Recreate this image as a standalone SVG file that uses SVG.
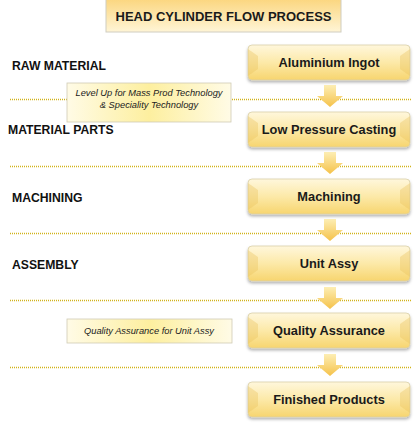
<svg xmlns="http://www.w3.org/2000/svg" width="417" height="423" viewBox="0 0 417 423">
<defs>
<linearGradient id="gBox" x1="0" y1="0" x2="0" y2="1">
<stop offset="0" stop-color="#fff7dc"/>
<stop offset="0.5" stop-color="#fce9a8"/>
<stop offset="1" stop-color="#f7d56f"/>
</linearGradient>
<linearGradient id="gTitle" x1="0" y1="0" x2="0" y2="1">
<stop offset="0" stop-color="#fbd57c"/>
<stop offset="1" stop-color="#fff5d6"/>
</linearGradient>
<linearGradient id="gNote" x1="0" y1="0" x2="1" y2="0">
<stop offset="0" stop-color="#fffbe6"/>
<stop offset="0.5" stop-color="#fdef9f"/>
<stop offset="1" stop-color="#fffbe6"/>
</linearGradient>
<linearGradient id="gArrow" x1="0" y1="0" x2="0" y2="1">
<stop offset="0" stop-color="#fdeeb4"/>
<stop offset="1" stop-color="#f5c24a"/>
</linearGradient>
<filter id="sh" x="-10%" y="-20%" width="120%" height="150%">
<feDropShadow dx="0" dy="2" stdDeviation="1.5" flood-color="#000" flood-opacity="0.3"/>
</filter>
</defs>
<style>
.box{fill:url(#gBox);stroke:#d9cfa8;stroke-width:0.8;filter:url(#sh)}
.bev{fill:#e8c15a;opacity:0.35}
.bt{font-family:"Liberation Sans",Arial,sans-serif;font-weight:bold;font-size:12.8px;fill:#1a1a1a;text-anchor:middle}
.lt{font-family:"Liberation Sans",Arial,sans-serif;font-weight:bold;font-size:12.2px;fill:#111}
.nt{font-family:"Liberation Sans",Arial,sans-serif;font-style:italic;font-size:9.3px;fill:#222;text-anchor:middle}
.dot{stroke:#d2b31a;stroke-width:1.5;stroke-dasharray:1 1;fill:none}
.arr{fill:url(#gArrow)}
.note{fill:url(#gNote);stroke:#cfcab5;stroke-width:0.8}
</style>

<g id="title">
<rect x="106" y="-2" width="235" height="34" fill="url(#gTitle)" stroke="#d0cdc0" stroke-width="1"/>
<text x="223.5" y="21" class="bt" style="font-size:13px">HEAD CYLINDER FLOW PROCESS</text>
</g>

<g id="separators">
<line class="dot" x1="10" y1="99.5" x2="412" y2="99.5"/>
<line class="dot" x1="10" y1="166.5" x2="412" y2="166.5"/>
<line class="dot" x1="10" y1="233.5" x2="412" y2="233.5"/>
<line class="dot" x1="10" y1="300.5" x2="412" y2="300.5"/>
<line class="dot" x1="10" y1="367.5" x2="412" y2="367.5"/>
</g>

<g id="stage-labels">
<text class="lt" x="12" y="70">RAW MATERIAL</text>
<text class="lt" x="8" y="134">MATERIAL PARTS</text>
<text class="lt" x="12" y="202">MACHINING</text>
<text class="lt" x="12" y="269">ASSEMBLY</text>
</g>

<g id="connectors">
<path class="arr" d="M324,85 H336 V96 H343 L330,107 L317,96 H324 Z"/>
<path class="arr" d="M324,152 H336 V163 H343 L330,174 L317,163 H324 Z"/>
<path class="arr" d="M324,219 H336 V230 H343 L330,241 L317,230 H324 Z"/>
<path class="arr" d="M324,287 H336 V298 H343 L330,309 L317,298 H324 Z"/>
<path class="arr" d="M324,354 H336 V365 H343 L330,376 L317,365 H324 Z"/>
</g>

<g id="n1">
<rect class="box" x="248" y="45" width="162" height="35" rx="4"/>
<path class="bev" d="M248,49 L258,56 V69 L248,76 Z M410,49 L400,56 V69 L410,76 Z"/>
<text class="bt" x="329" y="67">Aluminium Ingot</text>
</g>
<g id="n2">
<rect class="box" x="248" y="112" width="162" height="35" rx="4"/>
<path class="bev" d="M248,116 L258,123 V136 L248,143 Z M410,116 L400,123 V136 L410,143 Z"/>
<text class="bt" x="329" y="134">Low Pressure Casting</text>
</g>
<g id="n3">
<rect class="box" x="248" y="179" width="162" height="35" rx="4"/>
<path class="bev" d="M248,183 L258,190 V203 L248,210 Z M410,183 L400,190 V203 L410,210 Z"/>
<text class="bt" x="329" y="201">Machining</text>
</g>
<g id="n4">
<rect class="box" x="248" y="246" width="162" height="35" rx="4"/>
<path class="bev" d="M248,250 L258,257 V270 L248,277 Z M410,250 L400,257 V270 L410,277 Z"/>
<text class="bt" x="329" y="268">Unit Assy</text>
</g>
<g id="n5">
<rect class="box" x="248" y="313" width="162" height="35" rx="4"/>
<path class="bev" d="M248,317 L258,324 V337 L248,344 Z M410,317 L400,324 V337 L410,344 Z"/>
<text class="bt" x="329" y="335">Quality Assurance</text>
</g>
<g id="n6">
<rect class="box" x="248" y="382" width="162" height="35" rx="4"/>
<path class="bev" d="M248,386 L258,393 V406 L248,413 Z M410,386 L400,393 V406 L410,413 Z"/>
<text class="bt" x="329" y="404">Finished Products</text>
</g>

<g id="note1">
<rect class="note" x="67" y="83" width="164" height="39"/>
<text class="nt" x="149" y="96">Level Up for Mass Prod Technology</text>
<text class="nt" x="149" y="108">&amp; Speciality Technology</text>
</g>
<g id="note2">
<rect class="note" x="67" y="319" width="165" height="24"/>
<text class="nt" x="149" y="334">Quality Assurance for Unit Assy</text>
</g>
</svg>
